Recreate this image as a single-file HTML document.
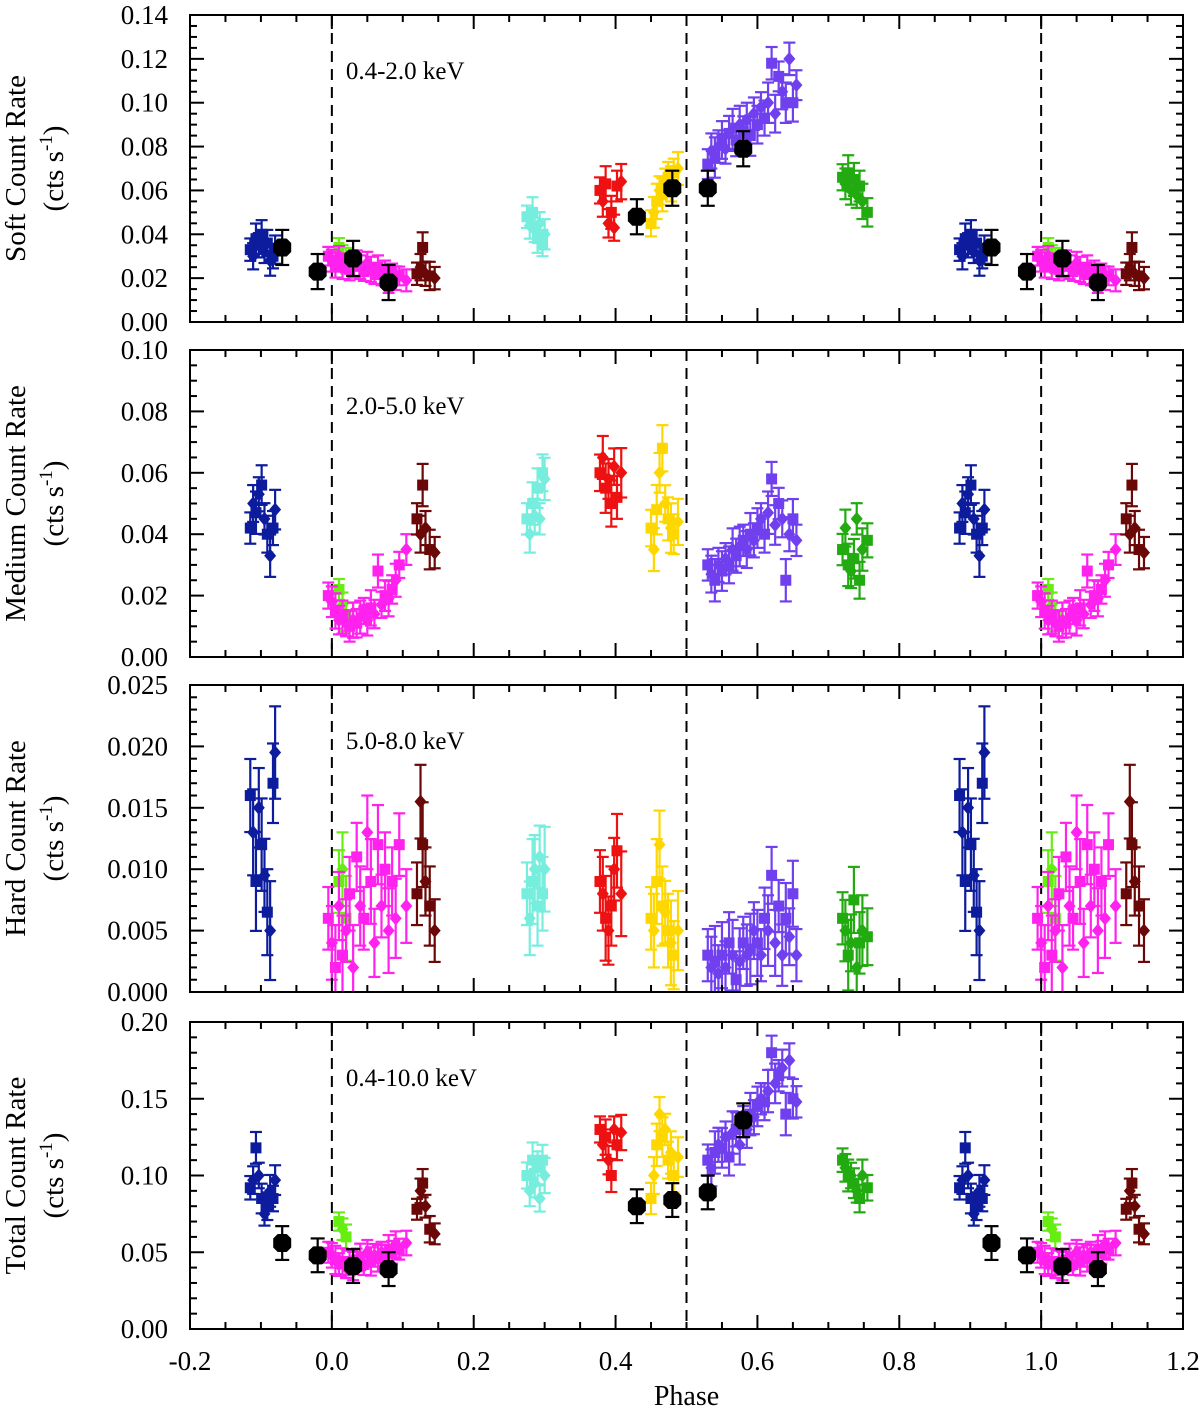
<!DOCTYPE html>
<html><head><meta charset="utf-8">
<style>
html,body{margin:0;padding:0;background:#fff;}
svg{display:block;font-family:"Liberation Serif",serif;}
</style></head>
<body>
<svg id="chart" width="1200" height="1410" viewBox="0 0 1200 1410" xmlns="http://www.w3.org/2000/svg"></svg>
<script>
// ---- data ----
const bluePhase=[-0.115,-0.111,-0.107,-0.103,-0.099,-0.095,-0.091,-0.087,-0.083,-0.08];
const magPhase=[-0.005,0,0.005,0.01,0.015,0.02,0.025,0.03,0.035,0.04,0.045,0.05,0.055,0.06,0.065,0.07,0.075,0.08,0.085,0.09,0.095,0.105];
const lgPhase=[0.01,0.015,0.02];
const drPhase=[0.12,0.125,0.128,0.132,0.138,0.145];
const cyPhase=[0.275,0.279,0.283,0.286,0.29,0.293,0.297,0.3];
const redPhase=[0.378,0.382,0.386,0.39,0.394,0.398,0.402,0.408];
const yelPhase=[0.45,0.454,0.458,0.462,0.466,0.47,0.474,0.478,0.482,0.488];
const purPhase=[0.53,0.535,0.54,0.545,0.55,0.555,0.56,0.565,0.57,0.575,0.58,0.585,0.59,0.595,0.6,0.605,0.61,0.615,0.62,0.625,0.63,0.635,0.64,0.645,0.65,0.655];
const grnPhase=[0.72,0.724,0.728,0.732,0.736,0.74,0.744,0.748,0.755];
const blkPhase=[-0.07,-0.02,0.03,0.08,0.43,0.48,0.53,0.58];

// soft
const softBlue=[0.033,0.030,0.038,0.035,0.040,0.032,0.036,0.028,0.030,0.033];
const softMag=[0.030,0.028,0.026,0.030,0.025,0.027,0.024,0.026,0.028,0.025,0.023,0.027,0.024,0.022,0.025,0.021,0.023,0.019,0.022,0.020,0.021,0.019];
const softLg=[0.034,0.030,0.028];
const softDr=[0.022,0.025,0.034,0.022,0.021,0.020];
const softCy=[0.048,0.044,0.050,0.042,0.038,0.045,0.036,0.040];
const softRed=[0.060,0.055,0.063,0.045,0.050,0.043,0.062,0.064];
const softYel=[0.045,0.050,0.055,0.060,0.058,0.064,0.066,0.063,0.068,0.070];
const softPur=[0.072,0.078,0.075,0.080,0.083,0.079,0.086,0.088,0.083,0.090,0.087,0.092,0.085,0.095,0.090,0.098,0.093,0.100,0.118,0.095,0.112,0.105,0.100,0.120,0.100,0.108];
const softGrn=[0.066,0.063,0.068,0.060,0.065,0.058,0.062,0.055,0.050];
const softBlk=[0.034,0.023,0.029,0.018,0.048,0.061,0.061,0.079];
// medium
const medBlue=[0.042,0.050,0.047,0.053,0.056,0.045,0.040,0.033,0.042,0.048];
const medMag=[0.020,0.018,0.015,0.012,0.013,0.011,0.010,0.012,0.011,0.013,0.015,0.012,0.016,0.014,0.028,0.017,0.020,0.019,0.022,0.025,0.030,0.035];
const medLg=[0.022,0.017,0.013];
const medDr=[0.045,0.040,0.056,0.042,0.035,0.034];
const medCy=[0.045,0.040,0.050,0.046,0.055,0.045,0.060,0.058];
const medRed=[0.060,0.065,0.055,0.058,0.050,0.062,0.052,0.060];
const medYel=[0.042,0.035,0.048,0.060,0.068,0.050,0.045,0.042,0.040,0.044];
const medPur=[0.030,0.027,0.025,0.030,0.028,0.032,0.030,0.035,0.033,0.036,0.038,0.035,0.040,0.038,0.042,0.045,0.040,0.047,0.058,0.043,0.050,0.045,0.025,0.040,0.045,0.038];
const medGrn=[0.035,0.042,0.030,0.028,0.032,0.045,0.025,0.035,0.038];
// hard
const hardBlue=[0.016,0.013,0.009,0.015,0.012,0.0095,0.0065,0.005,0.017,0.0195];
const hardMag=[0.006,0.004,0.002,0.007,0.003,0.005,0.008,0.002,0.011,0.007,0.006,0.013,0.009,0.004,0.012,0.007,0.010,0.005,0.009,0.006,0.012,0.007];
const hardLg=[0.009,0.010,0.006];
const hardDr=[0.008,0.0155,0.012,0.009,0.007,0.005];
const hardCy=[0.008,0.006,0.009,0.010,0.007,0.011,0.008,0.010];
const hardRed=[0.009,0.008,0.006,0.005,0.007,0.010,0.0115,0.008];
const hardYel=[0.006,0.005,0.009,0.012,0.007,0.0065,0.005,0.004,0.003,0.005];
const hardPur=[0.003,0.002,0.0025,0.0015,0.003,0.002,0.004,0.003,0.001,0.0025,0.004,0.003,0.0035,0.005,0.004,0.003,0.006,0.005,0.0095,0.004,0.007,0.003,0.006,0.0045,0.008,0.003];
const hardGrn=[0.006,0.005,0.003,0.004,0.0075,0.002,0.004,0.005,0.0045];
// total
const totBlue=[0.092,0.097,0.118,0.100,0.085,0.075,0.080,0.090,0.085,0.097];
const totMag=[0.050,0.048,0.045,0.042,0.044,0.040,0.043,0.041,0.045,0.047,0.042,0.050,0.044,0.048,0.046,0.050,0.047,0.052,0.050,0.055,0.052,0.056];
const totLg=[0.070,0.065,0.060];
const totDr=[0.078,0.090,0.095,0.080,0.065,0.062];
const totCy=[0.100,0.090,0.110,0.095,0.105,0.085,0.110,0.100];
const totRed=[0.130,0.120,0.125,0.110,0.100,0.130,0.120,0.128];
const totYel=[0.085,0.100,0.120,0.140,0.125,0.130,0.110,0.115,0.100,0.112];
const totPur=[0.110,0.105,0.115,0.120,0.118,0.125,0.112,0.128,0.130,0.120,0.135,0.130,0.140,0.138,0.145,0.150,0.148,0.155,0.180,0.160,0.165,0.170,0.140,0.175,0.150,0.148];
const totGrn=[0.110,0.105,0.100,0.100,0.095,0.090,0.085,0.100,0.092];
const totBlk=[0.056,0.048,0.041,0.039,0.080,0.084,0.089,0.136];

const xTicks=[-0.2,0.0,0.2,0.4,0.6,0.8,1.0,1.2];
const panelTitles=["Soft Count Rate","Medium Count Rate","Hard Count Rate","Total Count Rate"];
const bandLabels=["0.4-2.0 keV","2.0-5.0 keV","5.0-8.0 keV","0.4-10.0 keV"];
const yMaxes=[0.14,0.10,0.025,0.20];
const yMajor=[0.02,0.02,0.005,0.05];
const yMinor=[0.005,0.005,0.001,0.01];
const yDec=[2,2,3,2];

// ---- layout ----
const svg=document.getElementById('chart');
const NS='http://www.w3.org/2000/svg';
const X0=190,X1=1183,XMIN=-0.2,XMAX=1.2;
const tops=[15,350,685,1022], H=307;
const xs=v=>X0+(v-XMIN)/(XMAX-XMIN)*(X1-X0);
function mk(tag,attrs,parent){const e=document.createElementNS(NS,tag);for(const k in attrs)e.setAttribute(k,attrs[k]);(parent||svg).appendChild(e);return e;}

const colors={blue:'#0c1c9c',mag:'#ff22ee',lg:'#66ee11',dr:'#6a0808',cy:'#77eedd',red:'#ee1111',yel:'#ffd700',pur:'#7040ee',grn:'#22aa11',blk:'#000000'};

function drawPanel(i,groups){
  const top=tops[i],bot=top+H,ymax=yMaxes[i];
  const ys=v=>bot-v/ymax*H;
  const g=mk('g',{});
  
  
  [0,0.5,1.0].forEach(p=>{
    const l=mk('line',{x1:xs(p),x2:xs(p),y1:top,y2:bot,stroke:'#000','stroke-width':2,'stroke-dasharray':'11,7'},g);
    
    
  });
  groups.forEach(([ph,vals,col,err,kind])=>{
    const sg=mk('g',{},g);
    
    
    ph.forEach((p,j)=>{
      const reps=p<0.2?[p,p+1]:[p];
      reps.forEach(pp=>{
        if(pp<XMIN||pp>XMAX)return;
        const x=xs(pp),y=ys(vals[j]),e=err*(kind==='blk'?1:(0.85+0.3*((j*7)%5)/4));
        const yt=Math.max(top,ys(vals[j]+e)),yb=Math.min(bot,ys(vals[j]-e));
        const c=colors[col];
        mk('line',{x1:x,x2:x,y1:yt,y2:yb,stroke:c,'stroke-width':2.2},sg);
        const cw=kind==='blk'?7:6;
        if(ys(vals[j]+e)>=top)mk('line',{x1:x-cw,x2:x+cw,y1:yt,y2:yt,stroke:c,'stroke-width':2.2},sg);
        if(ys(vals[j]-e)<=bot)mk('line',{x1:x-cw,x2:x+cw,y1:yb,y2:yb,stroke:c,'stroke-width':2.2},sg);
        let m;
        if(kind==='blk'){
          m=mk('polygon',{points:[[-4.5,-9],[4.5,-9],[9,-4.5],[9,4.5],[4.5,9],[-4.5,9],[-9,4.5],[-9,-4.5]].map(q=>(x+q[0])+','+(y+q[1])).join(' '),fill:c},sg);
        }else if(j%2===0){
          m=mk('rect',{x:x-5.5,y:y-5.5,width:11,height:11,fill:c},sg);
        }else{
          m=mk('polygon',{points:`${x},${y-7} ${x+6},${y} ${x},${y+7} ${x-6},${y}`,fill:c},sg);
        }
        
        
      });
    });
  });
  const fr=mk('rect',{x:X0,y:top,width:X1-X0,height:H,fill:'none',stroke:'#000','stroke-width':2},g);
  
  
  for(let k=0;k<=28;k++){
    const v=XMIN+k*0.05,x=xs(v),len=(k%4===0)?14:7;
    mk('line',{x1:x,x2:x,y1:bot,y2:bot-len,stroke:'#000','stroke-width':2},g);
    mk('line',{x1:x,x2:x,y1:top,y2:top+len,stroke:'#000','stroke-width':2},g);
  }
  const nmin=Math.round(ymax/yMinor[i]),per=Math.round(yMajor[i]/yMinor[i]);
  for(let k=0;k<=nmin;k++){
    const y=ys(k*yMinor[i]),len=(k%per===0)?14:7;
    mk('line',{x1:X0,x2:X0+len,y1:y,y2:y,stroke:'#000','stroke-width':2},g);
    mk('line',{x1:X1,x2:X1-len,y1:y,y2:y,stroke:'#000','stroke-width':2},g);
    if(k%per===0){
      const t=mk('text',{x:X0-22,y:y+9,'text-anchor':'end','font-size':27},g);
      t.textContent=(k*yMinor[i]).toFixed(yDec[i]);
      
      
    }
  }
  const bl=mk('text',{x:xs(0)+14,y:top+64,'font-size':25},g);
  bl.textContent=bandLabels[i];
  
  
  const cy=top+H/2;
  const t1=mk('text',{x:0,y:0,'text-anchor':'middle','font-size':29,transform:`translate(25,${cy}) rotate(-90)`},g);
  t1.textContent=panelTitles[i];
  
  
  const t2=mk('text',{x:0,y:0,'text-anchor':'middle','font-size':29,transform:`translate(63,${cy}) rotate(-90)`},g);
  t2.innerHTML='(cts s<tspan dy="-11" font-size="19">-1</tspan><tspan dy="11">)</tspan>';
  
  
}

drawPanel(0,[[bluePhase,softBlue,'blue',0.006],[lgPhase,softLg,'lg',0.005],[magPhase,softMag,'mag',0.005],[drPhase,softDr,'dr',0.006],[cyPhase,softCy,'cy',0.006],[redPhase,softRed,'red',0.007],[yelPhase,softYel,'yel',0.007],[purPhase,softPur,'pur',0.008],[grnPhase,softGrn,'grn',0.007],[blkPhase,softBlk,'blk',0.008,'blk']]);
drawPanel(1,[[bluePhase,medBlue,'blue',0.006],[lgPhase,medLg,'lg',0.004],[magPhase,medMag,'mag',0.005],[drPhase,medDr,'dr',0.006],[cyPhase,medCy,'cy',0.006],[redPhase,medRed,'red',0.007],[yelPhase,medYel,'yel',0.007],[purPhase,medPur,'pur',0.006],[grnPhase,medGrn,'grn',0.006]]);
drawPanel(2,[[bluePhase,hardBlue,'blue',0.0035],[lgPhase,hardLg,'lg',0.003],[magPhase,hardMag,'mag',0.003],[drPhase,hardDr,'dr',0.003],[cyPhase,hardCy,'cy',0.003],[redPhase,hardRed,'red',0.003],[yelPhase,hardYel,'yel',0.003],[purPhase,hardPur,'pur',0.0025],[grnPhase,hardGrn,'grn',0.0025]]);
drawPanel(3,[[bluePhase,totBlue,'blue',0.009],[lgPhase,totLg,'lg',0.007],[magPhase,totMag,'mag',0.008],[drPhase,totDr,'dr',0.008],[cyPhase,totCy,'cy',0.01],[redPhase,totRed,'red',0.01],[yelPhase,totYel,'yel',0.012],[purPhase,totPur,'pur',0.012],[grnPhase,totGrn,'grn',0.009],[blkPhase,totBlk,'blk',0.011,'blk']]);

xTicks.forEach(v=>{
  const t=mk('text',{x:xs(v),y:1370,'text-anchor':'middle','font-size':27});
  t.textContent=v.toFixed(1);
  
  
});
const xt=mk('text',{x:(X0+X1)/2,y:1405,'text-anchor':'middle','font-size':28});
xt.textContent='Phase';


</script>
</body></html>
